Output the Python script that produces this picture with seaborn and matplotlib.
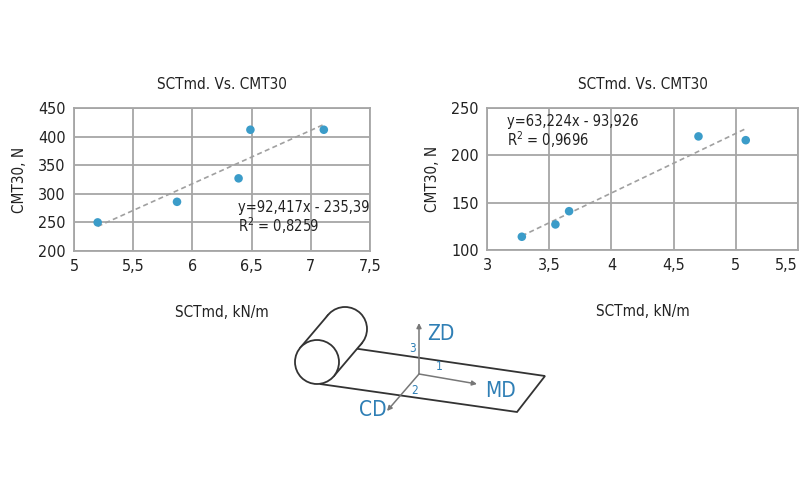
import matplotlib
matplotlib.use("Agg")
import matplotlib.pyplot as plt
import seaborn as sns
import pandas as pd
from matplotlib.patches import Circle, Polygon, FancyArrowPatch

# data
sct_left = [5.2, 5.87, 6.39, 6.49, 7.11]
cmt_left = [250, 286, 327, 412, 412]
sct_right = [3.28, 3.55, 3.66, 4.70, 5.08]
cmt_right = [114, 127, 141, 220, 216]

eq_left = "y=92,417x - 235,39\nR$^2$ = 0,8259"
eq_right = "y=63,224x - 93,926\nR$^2$ = 0,9696"
title = "SCTmd. Vs. CMT30"
xlab = "SCTmd, kN/m"
ylab = "CMT30, N"

sns.set_style("white")
plt.rcParams['font.family'] = ['DejaVu Sans']
plt.rcParams['font.stretch'] = 'condensed'
plt.rcParams['mathtext.fontset'] = 'custom'
plt.rcParams['mathtext.rm'] = 'DejaVu Sans:stretch=condensed'

W, H = 805, 500
fig = plt.figure(figsize=(W / 100, H / 100), dpi=100)

dot = "#3b9cc9"
grid = "#a6a6a6"
blue = "#2f7fb5"
ink = "#222222"


def px_axes(x0, y0, x1, y1):
    return fig.add_axes([x0 / W, 1 - y1 / H, (x1 - x0) / W, (y1 - y0) / H])


def panel(ax, xs, ys, xlim, xticks, ylim, yticks, eq, eqpos):
    df = pd.DataFrame({"x": xs, "y": ys})
    sns.regplot(data=df, x="x", y="y", ax=ax, ci=None,
                scatter_kws=dict(s=38, color=dot, edgecolor="none", alpha=1, zorder=3),
                line_kws=dict(ls=(0, (3, 2)), color="#a0a0a0", lw=1.2, zorder=2))
    ax.set_xlim(*xlim)
    ax.set_ylim(*ylim)
    ax.set_xticks(xticks)
    ax.set_yticks(yticks)
    ax.set_xticklabels([str(t).replace(".", ",") for t in xticks])
    ax.set_yticklabels([str(t) for t in yticks])
    ax.grid(True, color=grid, lw=1.3)
    ax.set_axisbelow(True)
    for s in ax.spines.values():
        s.set_color(grid)
        s.set_linewidth(1.3)
    ax.tick_params(axis="both", length=0, labelsize=11.5, pad=6, colors=ink)
    ax.set_xlabel(xlab, fontsize=11, labelpad=22, color=ink)
    ax.set_ylabel(ylab, fontsize=11, labelpad=8, color=ink)
    ax.set_title(title, fontsize=11, pad=14, color=ink)
    ax.text(eqpos[0], eqpos[1], eq, transform=ax.transAxes, fontsize=10.5,
            color=ink, va="top", linespacing=1.05)


ax1 = px_axes(74, 108, 370, 251)
panel(ax1, sct_left, cmt_left, (5, 7.5), [5, 5.5, 6, 6.5, 7, 7.5],
      (200, 450), [200, 250, 300, 350, 400, 450], eq_left, (0.555, 0.36))

ax2 = px_axes(487, 108, 798, 250)
panel(ax2, sct_right, cmt_right, (3, 5.5), [3, 3.5, 4, 4.5, 5, 5.5],
      (100, 250), [100, 150, 200, 250], eq_right, (0.065, 0.96))
ax2.get_xticklabels()[-1].set_ha("right")

# paper roll diagram
axd = fig.add_axes([0, 0, 1, 1])
axd.set_xlim(0, W)
axd.set_ylim(H, 0)
axd.axis("off")
edge = "#333333"

fc = (317, 362)
bc = (345, 329)
r = 22
dx, dy = bc[0] - fc[0], bc[1] - fc[1]
n = (dx ** 2 + dy ** 2) ** 0.5
px, py = -dy / n * r, dx / n * r

# sheet
axd.add_patch(Polygon([(352, 348), (545, 376), (517, 412), (320, 384)],
                      closed=True, facecolor="white", edgecolor=edge, lw=1.3, zorder=1))
axd.add_patch(Circle(bc, r, facecolor="white", edgecolor=edge, lw=1.3, zorder=2))
axd.add_patch(Polygon([(fc[0] + px, fc[1] + py), (bc[0] + px, bc[1] + py),
                       (bc[0] - px, bc[1] - py), (fc[0] - px, fc[1] - py)],
                      closed=True, facecolor="white", edgecolor="none", zorder=3))
axd.plot([fc[0] + px, bc[0] + px], [fc[1] + py, bc[1] + py], color=edge, lw=1.3, zorder=4)
axd.plot([fc[0] - px, bc[0] - px], [fc[1] - py, bc[1] - py], color=edge, lw=1.3, zorder=4)
axd.add_patch(Circle(fc, r, facecolor="white", edgecolor=edge, lw=1.3, zorder=5))

o = (419, 374)
for tip in [(419, 323), (477, 384), (387, 411)]:
    axd.add_patch(FancyArrowPatch(o, tip, arrowstyle="-|>", mutation_scale=7,
                                  color="#777777", lw=1.1, zorder=6, shrinkA=0, shrinkB=0))
axd.text(427, 334, "ZD", color=blue, fontsize=15, va="center", ha="left", zorder=7)
axd.text(485, 391, "MD", color=blue, fontsize=15, va="center", ha="left", zorder=7)
axd.text(373, 410, "CD", color=blue, fontsize=15, va="center", ha="center", zorder=7)
axd.text(439, 367, "1", color=blue, fontsize=8.5, va="center", ha="center", zorder=7)
axd.text(415, 391, "2", color=blue, fontsize=8.5, va="center", ha="center", zorder=7)
axd.text(413, 348, "3", color=blue, fontsize=8.5, va="center", ha="center", zorder=7)

fig.savefig("out.png", dpi=100, facecolor="white")
